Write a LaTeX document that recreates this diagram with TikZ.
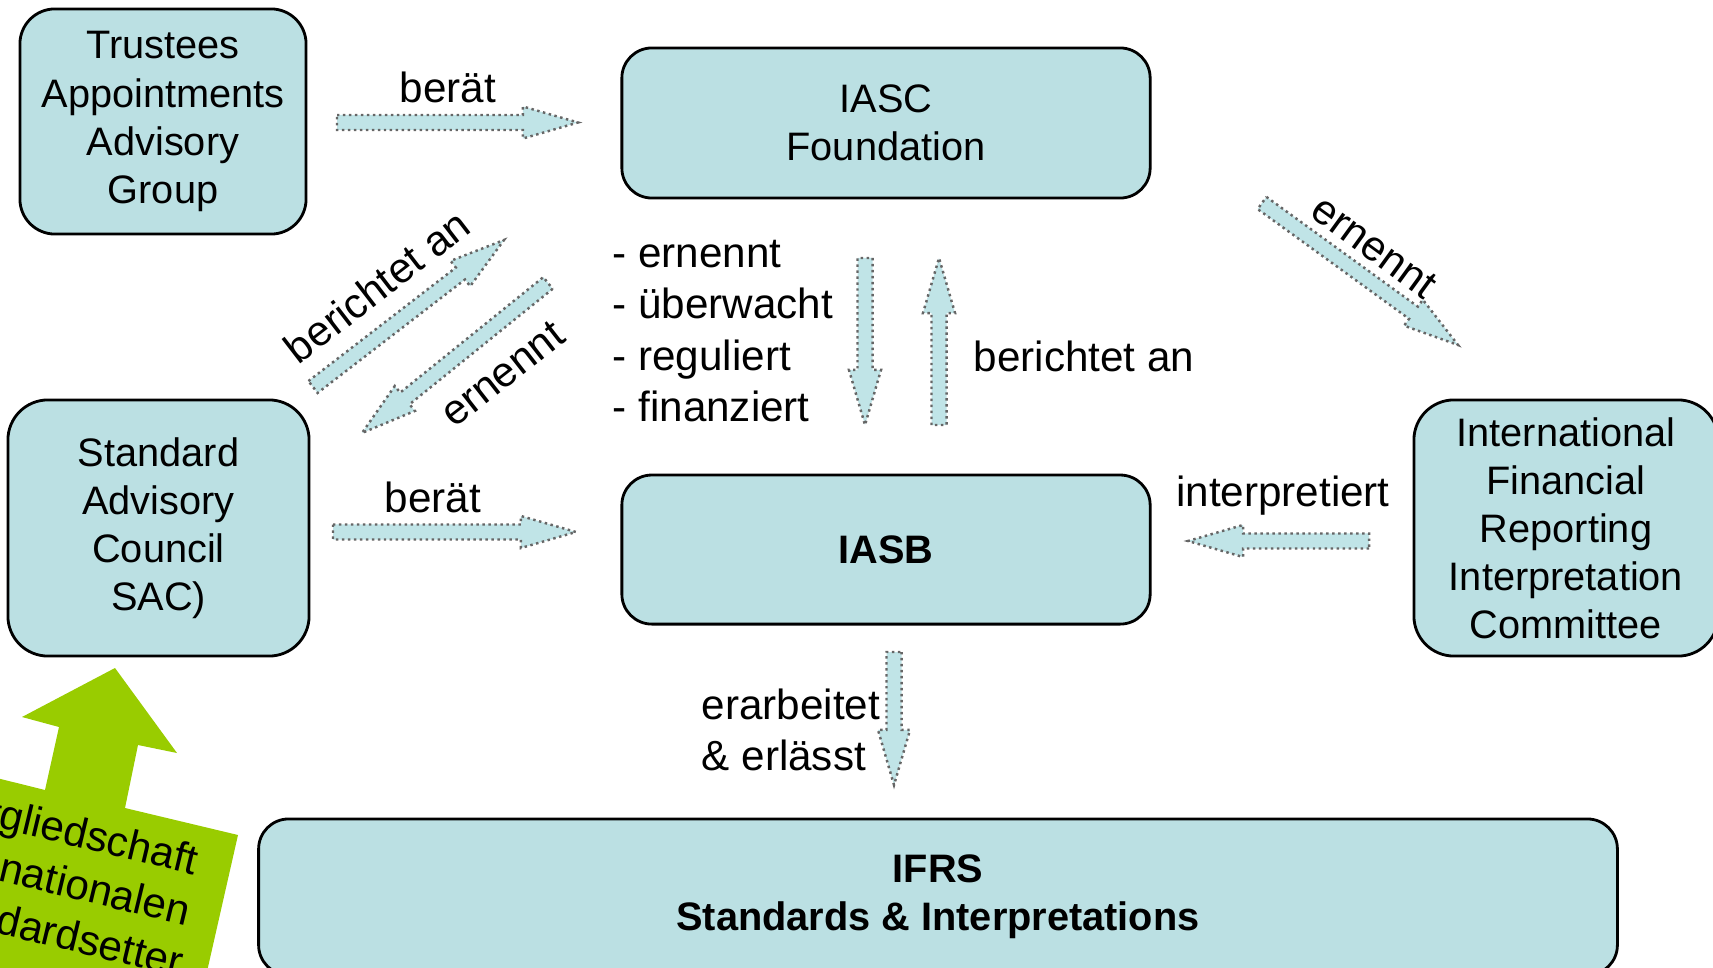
\documentclass[tikz,border=0pt]{standalone}
\usepackage{fontspec}
\setmainfont{Liberation Sans}
\usetikzlibrary{positioning,calc}
\definecolor{boxcyan}{RGB}{187,224,227}
\definecolor{arrcyan}{RGB}{192,228,231}
\definecolor{membergreen}{RGB}{153,204,0}

\begin{document}
\begin{tikzpicture}[
        x=0.01cm, y=-0.01cm,
        orgbox/.style={draw=black, line width=0.8pt, fill=boxcyan, rounded corners=0.3cm,
            align=center, inner sep=0pt, font=\fontsize{11.3}{13.66}\selectfont},
        blockarr/.style={fill=arrcyan, draw=gray!80!black, densely dotted, line width=0.7pt,
            to path={($(\tikztostart)!0.075cm!90:(\tikztotarget)$)
                -- ($($(\tikztotarget)!0.55cm!(\tikztostart)$)!0.075cm!90:(\tikztotarget)$)
                -- ($($(\tikztotarget)!0.55cm!(\tikztostart)$)!0.16cm!90:(\tikztotarget)$)
                -- (\tikztotarget)
                -- ($($(\tikztotarget)!0.55cm!(\tikztostart)$)!0.16cm!-90:(\tikztotarget)$)
                -- ($($(\tikztotarget)!0.55cm!(\tikztostart)$)!0.075cm!-90:(\tikztotarget)$)
                -- ($(\tikztostart)!0.075cm!-90:(\tikztotarget)$) -- cycle}},
        lbl/.style={inner sep=0pt, font=\fontsize{12}{14.6}\selectfont}
    ]
        \useasboundingbox (0,0) rectangle (1713,967);
        \clip (0,0) rectangle (1713,967);

        % Nodes
        \node[orgbox, minimum width=2.86cm, minimum height=2.25cm, rounded corners=0.35cm] (tapg) at (163,121.5) {Trustees\\Appointments\\Advisory\\Group};
        \node[orgbox, minimum width=5.28cm, minimum height=1.5cm] (iasc) at (886,123) {IASC\\Foundation};
        \node[orgbox, minimum width=5.28cm, minimum height=1.49cm, below=2.74cm of iasc,
            font=\fontsize{11.3}{13.66}\selectfont\bfseries] (iasb) {IASB};
        \node[orgbox, minimum width=3.01cm, minimum height=2.56cm, rounded corners=0.4cm] (sac) at (158.5,528) {Standard\\Advisory\\Council \\SAC)};
        \node[orgbox, minimum width=3.04cm, minimum height=2.56cm, rounded corners=0.4cm] (ifric) at (1566,528) {International\\Financial\\Reporting\\Interpretation\\Committee};
        \node[orgbox, minimum width=13.58cm, minimum height=1.56cm,
            font=\fontsize{11.3}{13.66}\selectfont\bfseries] (ifrs) at (938,897) {IFRS\\Standards \& Interpretations};

        % Membership arrow
        \fill[membergreen] (115,668) -- (177,753) -- (138,745) -- (125,808) -- (238,835) -- (196,1020)
            -- (-150,1000) -- (-100,754) -- (45,790) -- (59,727) -- (22,717) -- cycle;
        \node[lbl, rotate=-13.5, align=center] (member) at (60,880) {Mitgliedschaft\\der nationalen\\Standardsetter};

        % Arrow ends
        \coordinate (a1s) at (337,122.5);  \coordinate (a1e) at (578,122.5);
        \coordinate (a2s) at (333,532);    \coordinate (a2e) at (576,532);
        \coordinate (a3s) at (313,387);    \coordinate (a3e) at (504,240);
        \coordinate (a4s) at (548,283);    \coordinate (a4e) at (362,433);
        \coordinate (a5s) at (865,258);    \coordinate (a5e) at (865,425);
        \coordinate (a6s) at (939,425);    \coordinate (a6e) at (939,258);
        \coordinate (a7s) at (1262,203);   \coordinate (a7e) at (1458,345);
        \coordinate (a8s) at (1369,541);   \coordinate (a8e) at (1188,541);
        \coordinate (a9s) at (894,652);    \coordinate (a9e) at (894,785);

        % Arrows
        \draw[blockarr] (a1s) to (a1e);
        \draw[blockarr] (a2s) to (a2e);
        \draw[blockarr] (a3s) to (a3e);
        \draw[blockarr] (a4s) to (a4e);
        \draw[blockarr] (a5s) to (a5e);
        \draw[blockarr] (a6s) to (a6e);
        \draw[blockarr] (a7s) to (a7e);
        \draw[blockarr] (a8s) to (a8e);
        \draw[blockarr] (a9s) to (a9e);

        % Labels
        \node[lbl] (advise1) at (448,87) {berät};
        \node[lbl] (advise2) at (433,497) {berät};
        \node[lbl, rotate=37.6] (report1) at (377,286) {berichtet an};
        \node[lbl, rotate=38] (appoint1) at (503,374) {ernennt};
        \node[lbl, align=left, anchor=west] (tasks) at (612,331) {- ernennt\\- überwacht\\- reguliert\\- finanziert};
        \node[lbl] (report2) at (1084,356) {berichtet an};
        \node[lbl, rotate=-36] (appoint2) at (1374,247) {ernennt};
        \node[lbl] (interpret) at (1283,496) {interpretiert};
        \node[lbl, align=left, anchor=west] (issue) at (701,730) {erarbeitet\\\& erlässt};

    \end{tikzpicture}
\end{document}
